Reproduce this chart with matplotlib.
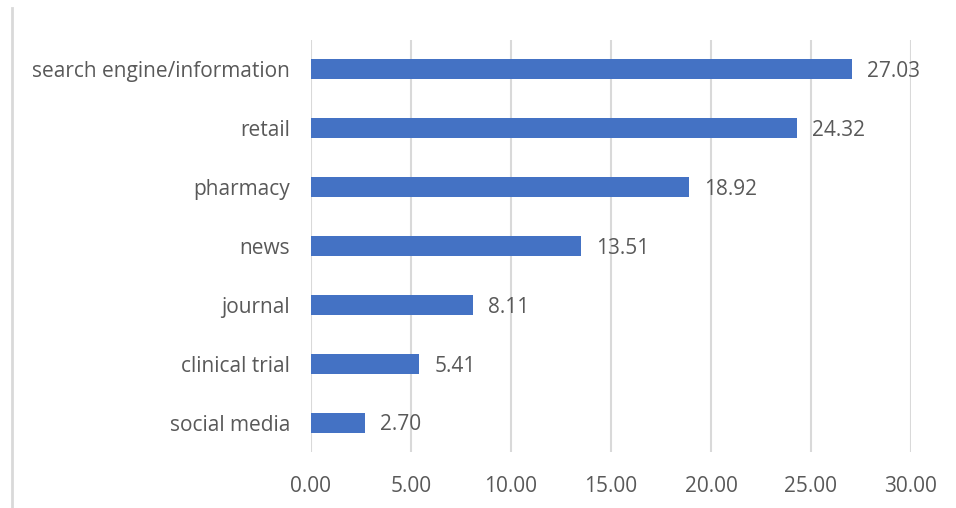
import matplotlib.pyplot as plt
from matplotlib.lines import Line2D

categories = ["search engine/information", "retail", "pharmacy", "news",
              "journal", "clinical trial", "social media"]
values = [27.03, 24.32, 18.92, 13.51, 8.11, 5.41, 2.70]
xticks = [0, 5, 10, 15, 20, 25, 30]

plt.rcParams["font.family"] = ["Open Sans", "DejaVu Sans"]
text_color = "#595959"
fs = 15

fig = plt.figure(figsize=(9.56, 5.08), dpi=100)
ax = fig.add_axes([0.3253, 0.1102, 0.6276, 0.8111])

pos = list(range(len(categories)))
ax.barh(pos, values, height=0.34, color="#4472C4", zorder=3)
for p, v in zip(pos, values):
    ax.text(v + 0.75, p + 0.04, f"{v:.2f}", va="center", ha="left",
            fontsize=fs, color=text_color)

ax.set_yticks(pos)
ax.set_yticklabels(categories, fontsize=fs, color=text_color)
ax.set_ylim(len(categories) - 0.5, -0.5)
ax.set_xlim(0, 30)
ax.set_xticks(xticks)
ax.set_xticklabels([f"{t:.2f}" for t in xticks], fontsize=fs, color=text_color)
ax.tick_params(length=0, pad=17, axis="x")
ax.tick_params(length=0, pad=15, axis="y")
ax.grid(axis="x", color="#D9D9D9", linewidth=1.5, zorder=0)
for s in ax.spines.values():
    s.set_visible(False)

fig.add_artist(Line2D([12 / 956, 12 / 956], [0, 1 - 8 / 508],
                      color="#D9D9D9", linewidth=2))

fig.savefig("out.png", dpi=100)
